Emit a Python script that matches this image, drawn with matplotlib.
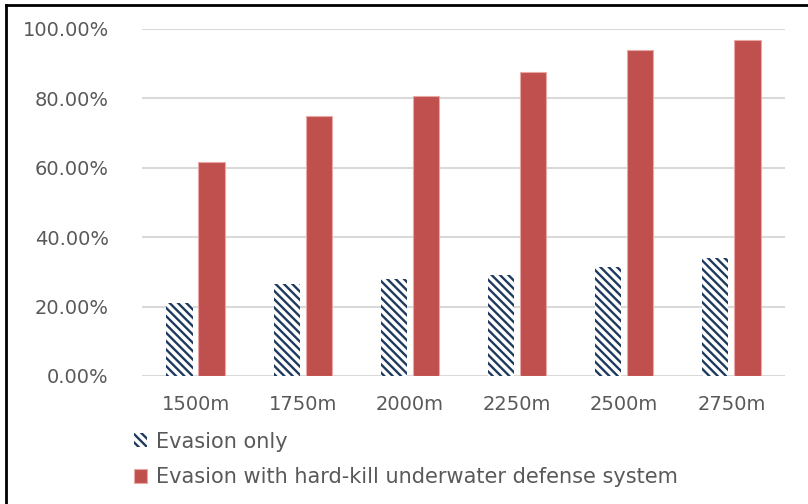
import numpy as np
import matplotlib
matplotlib.use("Agg")
from matplotlib import pyplot as plt
from matplotlib.lines import Line2D
from matplotlib.ticker import PercentFormatter

# Detection-avoidance success rate by launch distance
distances = ["1500m", "1750m", "2000m", "2250m", "2500m", "2750m"]
evasion_only = [21.0, 26.5, 27.9, 29.2, 31.5, 33.9]
evasion_hardkill = [61.6, 74.9, 80.7, 87.6, 94.0, 96.8]

NAVY = "#1F3A5F"
RED = "#C0504D"
GRID = "#D9D9D9"
TEXT = "#595959"

plt.rcParams["font.family"] = "DejaVu Sans"
plt.rcParams["hatch.linewidth"] = 1.7
plt.rcParams["hatch.color"] = NAVY

fig = plt.figure(figsize=(8.08, 5.04), dpi=100)
ax = fig.add_axes([0.1757, 0.254, 0.7958, 0.6885])

x = np.arange(len(distances))
w = 0.245
gap = 0.055
vals1 = np.array(evasion_only) / 100
vals2 = np.array(evasion_hardkill) / 100
b1 = ax.bar(x - (w + gap) / 2, vals1, w, facecolor="white", edgecolor=NAVY,
            hatch="\\\\\\\\", linewidth=0, label="Evasion only", zorder=3)
b2 = ax.bar(x + (w + gap) / 2, vals2, w, color=RED, edgecolor="#E8A8A6",
            linewidth=0.8, label="Evasion with hard-kill underwater defense system",
            zorder=3)

ax.set_xlim(-0.5, len(distances) - 0.5)
ax.set_ylim(0, 1.0)
ax.set_yticks(np.arange(0, 1.01, 0.2))
ax.yaxis.set_major_formatter(PercentFormatter(1.0, decimals=2))
ax.set_xticks(x)
ax.set_xticklabels(distances)
ax.grid(axis="y", color=GRID, linewidth=1.5, zorder=0)
for s in ax.spines.values():
    s.set_visible(False)
ax.tick_params(axis="both", length=0, labelsize=14, colors=TEXT)
ax.tick_params(axis="y", pad=24)
ax.tick_params(axis="x", pad=14)

leg = fig.legend(handles=[b1, b2], loc="upper left", bbox_to_anchor=(0.155, 0.16),
                 frameon=False, fontsize=15, handlelength=0.65, handleheight=0.65,
                 handletextpad=0.45, labelspacing=0.75, borderaxespad=0)
for t in leg.get_texts():
    t.set_color(TEXT)

# frame lines along the top and left edges
fig.add_artist(Line2D([0.008, 0.008], [0, 0.99], transform=fig.transFigure,
                      color="black", linewidth=2))
fig.add_artist(Line2D([0.008, 1.0], [0.99, 0.99], transform=fig.transFigure,
                      color="black", linewidth=2))

fig.savefig("out.png", dpi=100)
